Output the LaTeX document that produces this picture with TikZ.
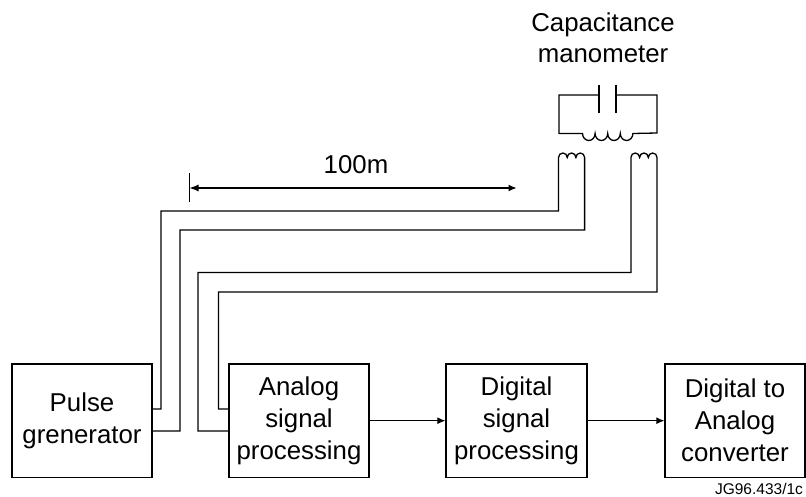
\documentclass[tikz,border=0pt]{standalone}
\usepackage{fontspec}
\setmainfont{Liberation Sans}
\usetikzlibrary{arrows.meta}
\tikzset{
 x=1pt,y=-1pt,
 wire/.style={draw,line width=1.3pt},
 blockbox/.style={draw,line width=1.3pt,minimum width=#1,minimum height=113.5pt,inner sep=0pt,align=center,font=\fontsize{25.8}{32}\selectfont},
 lbl/.style={inner sep=0pt,align=center,font=\fontsize{25.8}{31}\selectfont},
 sig/.style={line width=1.1pt,-{Latex[length=8pt,width=7pt]}},
 coilw/.style={line width=1.3pt}
}
\begin{document}
\begin{tikzpicture}
\useasboundingbox (0,0) rectangle (806,497);
\node[blockbox=140pt] (pulse) at (82,420.7) {Pulse\\grenerator};
\node[blockbox=140pt] (analog) at (299,420.7) {Analog\\signal\\processing};
\node[blockbox=141pt] (digital) at (516.5,420.7) {Digital\\signal\\processing};
\node[blockbox=140pt] (dac) at (735,420.7) {Digital to\\Analog\\converter};
\draw[sig] (analog) -- (digital);
\draw[sig] (digital) -- (dac);
\node[lbl] (cap) at (603,38) {Capacitance\\manometer};
\node[lbl] (dist) at (356,165) {100m};
\node[inner sep=0pt,font=\fontsize{15.5}{18}\selectfont] (ref) at (759,488.5) {JG96.433/1c};
% capacitor circuit
\coordinate (pa) at (599,85); \coordinate (pb) at (599,113);
\coordinate (qa) at (616,85); \coordinate (qb) at (616,113);
\draw[line width=1.8pt] (pa) -- (pb);
\draw[line width=1.8pt] (qa) -- (qb);
\draw[coilw] (599,95) -- (559,95) -- (559,133.5) -- (582.5,133.5)
 arc[start angle=180,end angle=360,x radius=6.3,y radius=-7]
 arc[start angle=180,end angle=360,x radius=6.3,y radius=-7]
 arc[start angle=180,end angle=360,x radius=6.3,y radius=-7]
 arc[start angle=180,end angle=360,x radius=6.3,y radius=-7]
 -- (657,133) -- (657,95) -- (616,95);
% wires
\coordinate (d1) at (189,173); \coordinate (d2) at (189,202);
\coordinate (a1) at (189.5,188); \coordinate (a2) at (516.5,188);
\draw[line width=1pt] (d1) -- (d2);
\draw[line width=1.1pt,{Latex[length=9pt,width=7pt]}-{Latex[length=8pt,width=7pt]}] (a1) -- (a2);
\draw[wire] (152,409) -- (161,409) -- (161,211) -- (558.5,211) -- (558.5,157.5)
 arc[start angle=180,end angle=0,x radius=4.35,y radius=-4.5]
 arc[start angle=180,end angle=0,x radius=4.35,y radius=-4.5]
 arc[start angle=180,end angle=0,x radius=4.35,y radius=-4.5]
 -- (584.6,230) -- (180,230) -- (180,431) -- (152,431);
\draw[wire] (229,409) -- (218.5,409) -- (218.5,292) -- (657,292) -- (657,157.5)
 arc[start angle=0,end angle=180,x radius=4.35,y radius=-4.5]
 arc[start angle=0,end angle=180,x radius=4.35,y radius=-4.5]
 arc[start angle=0,end angle=180,x radius=4.35,y radius=-4.5]
 -- (630.9,272.5) -- (198,272.5) -- (198,431) -- (229,431);
\end{tikzpicture}
\end{document}
